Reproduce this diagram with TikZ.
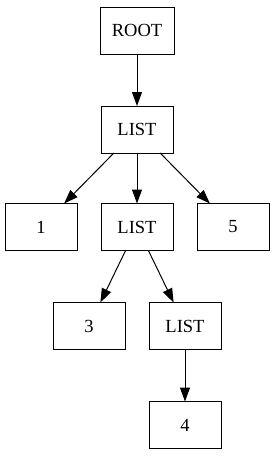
\documentclass[tikz,border=0pt]{standalone}
\usepackage{fontspec}
\setmainfont{Liberation Serif}
\usetikzlibrary{arrows.meta}
\begin{document}
\begin{tikzpicture}[x=1pt,y=-1pt,
  nbox/.style={draw,line width=1pt,minimum width=72pt,minimum height=47pt,inner sep=0pt,outer sep=0pt,font=\fontsize{18.5}{20}\selectfont},
  edge/.style={line width=1pt,-{Triangle[length=14pt,width=10pt]}}]
\useasboundingbox (0,0) rectangle (275,456);
\node[nbox,minimum width=74pt] (root) at (137,30.5) {ROOT};
\node[nbox] (l1) at (137,129.5) {LIST};
\node[nbox] (n1) at (41,227) {1};
\node[nbox] (l2) at (137,227) {LIST};
\node[nbox] (n5) at (233,227) {5};
\node[nbox] (n3) at (89,326) {3};
\node[nbox] (l3) at (185,326) {LIST};
\node[nbox] (n4) at (185,425) {4};
\draw[edge] (root) -- (l1);
\draw[edge] (l1) -- (n1);
\draw[edge] (l1) -- (l2);
\draw[edge] (l1) -- (n5);
\draw[edge] (l2) -- (n3);
\draw[edge] (l2) -- (l3);
\draw[edge] (l3) -- (n4);
\end{tikzpicture}
\end{document}
